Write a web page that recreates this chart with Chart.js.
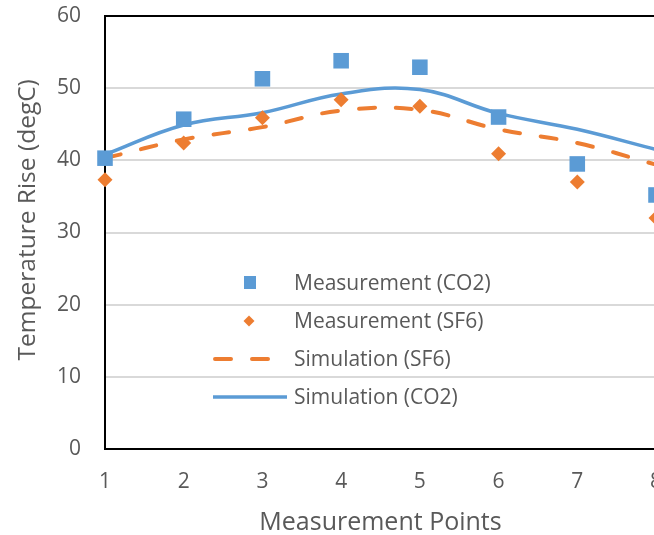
<!DOCTYPE html>
<html>
<head>
<meta charset="utf-8">
<script src="https://cdn.jsdelivr.net/npm/chart.js@4.4.1/dist/chart.umd.min.js"></script>
<style>
  html, body { margin: 0; padding: 0; background: #fff; overflow: hidden; }
  #wrap { width: 690px; height: 535px; }
</style>
</head>
<body>
<div id="wrap"><canvas id="chart" width="690" height="535"></canvas></div>
<script>
// Measurement points along the x axis
const points = [1, 2, 3, 4, 5, 6, 7, 8];

// Temperature rise values (degC)
const measCO2 = [40.3, 45.7, 51.3, 53.8, 52.9, 46.0, 39.5, 35.2];
const measSF6 = [37.3, 42.4, 45.9, 48.4, 47.5, 40.9, 37.0, 32.0];
const simSF6 = [40.3, 42.9, 44.6, 46.9, 47.0, 44.3, 42.4, 39.4];
const simCO2 = [40.8, 44.9, 46.6, 49.2, 49.8, 46.5, 44.3, 41.5];

const seriesNames = ['Measurement (CO2)', 'Measurement (SF6)', 'Simulation (SF6)', 'Simulation (CO2)'];
const yTicks = [0, 10, 20, 30, 40, 50, 60];

const blue = '#5B9BD5';
const orange = '#ED7D31';
const textColor = '#595959';
const fontFamily = "'Open Sans', 'Noto Sans', sans-serif";

function toXY(values) {
    return points.map((x, i) => ({ x: x, y: values[i] }));
}

// Legend drawn inside the plot area, like the Excel original
const insideLegend = {
    id: 'insideLegend',
    afterDatasetsDraw(chart) {
        const ctx = chart.ctx;
        const rows = [283, 321, 359, 397];
        const textX = 294;
        ctx.save();
        ctx.font = '21px ' + fontFamily;
        ctx.fillStyle = textColor;
        ctx.textBaseline = 'middle';
        chart.data.datasets.forEach((ds, i) => {
            const y = rows[i];
            ctx.save();
            if (ds.showLine) {
                ctx.strokeStyle = ds.borderColor;
                ctx.lineWidth = ds.borderWidth;
                ctx.lineCap = ds.borderCapStyle || 'butt';
                ctx.setLineDash(ds.borderDash || []);
                ctx.beginPath();
                if (ds.borderDash) {
                    ctx.moveTo(215, y);
                    ctx.lineTo(272, y);
                } else {
                    ctx.moveTo(213, y);
                    ctx.lineTo(287, y);
                }
                ctx.stroke();
            } else if (ds.pointStyle === 'rect') {
                ctx.fillStyle = ds.backgroundColor;
                ctx.fillRect(244, y - 7, 12, 13);
            } else {
                ctx.fillStyle = ds.backgroundColor;
                ctx.beginPath();
                ctx.moveTo(249, y - 5.5);
                ctx.lineTo(254.5, y);
                ctx.lineTo(249, y + 5.5);
                ctx.lineTo(243.5, y);
                ctx.closePath();
                ctx.fill();
            }
            ctx.restore();
            ctx.fillText(seriesNames[i], textX, y + 1);
        });
        ctx.restore();
    }
};

const ctx = document.getElementById('chart').getContext('2d');
new Chart(ctx, {
    type: 'scatter',
    data: {
        datasets: [
            {
                label: seriesNames[0],
                data: toXY(measCO2),
                pointStyle: 'rect',
                pointRadius: 11,
                backgroundColor: blue,
                borderColor: blue,
                borderWidth: 0,
                showLine: false,
                clip: false
            },
            {
                label: seriesNames[1],
                data: toXY(measSF6),
                pointStyle: 'rectRot',
                pointRadius: 7.5,
                backgroundColor: orange,
                borderColor: orange,
                borderWidth: 0,
                showLine: false,
                clip: false
            },
            {
                label: seriesNames[2],
                data: toXY(simSF6),
                showLine: true,
                pointRadius: 0,
                borderColor: orange,
                backgroundColor: orange,
                borderWidth: 4,
                borderDash: [16, 21],
                borderCapStyle: 'round',
                tension: 0.4,
                clip: false
            },
            {
                label: seriesNames[3],
                data: toXY(simCO2),
                showLine: true,
                pointRadius: 0,
                borderColor: blue,
                backgroundColor: blue,
                borderWidth: 3.5,
                tension: 0.4,
                clip: false
            }
        ]
    },
    options: {
        responsive: false,
        animation: false,
        events: [],
        layout: { padding: { left: 0, top: 16, right: 34, bottom: 0 } },
        plugins: {
            legend: { display: false },
            tooltip: { enabled: false }
        },
        scales: {
            x: {
                type: 'linear',
                min: 1,
                max: 8,
                afterFit: (scale) => {
                    scale.height = 86;
                    scale.paddingLeft = 0;
                    scale.paddingRight = 0;
                },
                grid: { display: false, drawTicks: false },
                border: { display: true, color: '#000', width: 2 },
                ticks: {
                    stepSize: 1,
                    padding: 20,
                    color: textColor,
                    font: { family: fontFamily, size: 21 }
                },
                title: {
                    display: true,
                    text: 'Measurement Points',
                    color: textColor,
                    font: { family: fontFamily, size: 25, lineHeight: 1 },
                    padding: { top: 0, bottom: 0 }
                }
            },
            y: {
                min: 0,
                max: 60,
                afterFit: (scale) => {
                    scale.width = 105;
                    scale.paddingTop = 0;
                    scale.paddingBottom = 0;
                },
                afterBuildTicks: (scale) => { scale.ticks = yTicks.map(v => ({ value: v })); },
                grid: {
                    drawTicks: false,
                    color: (c) => c.tick && c.tick.value === 60 ? '#000' : '#d9d9d9',
                    lineWidth: 2
                },
                border: { display: true, color: '#000', width: 2 },
                ticks: {
                    padding: 24,
                    color: textColor,
                    font: { family: fontFamily, size: 21 }
                },
                title: {
                    display: true,
                    // leading spaces nudge the title up a little, as in the original
                    text: '    Temperature Rise (degC)',
                    color: textColor,
                    font: { family: fontFamily, size: 24.5, lineHeight: 1.2 },
                    padding: { top: 13, bottom: 0 }
                }
            }
        }
    },
    plugins: [insideLegend]
});
</script>
</body>
</html>
